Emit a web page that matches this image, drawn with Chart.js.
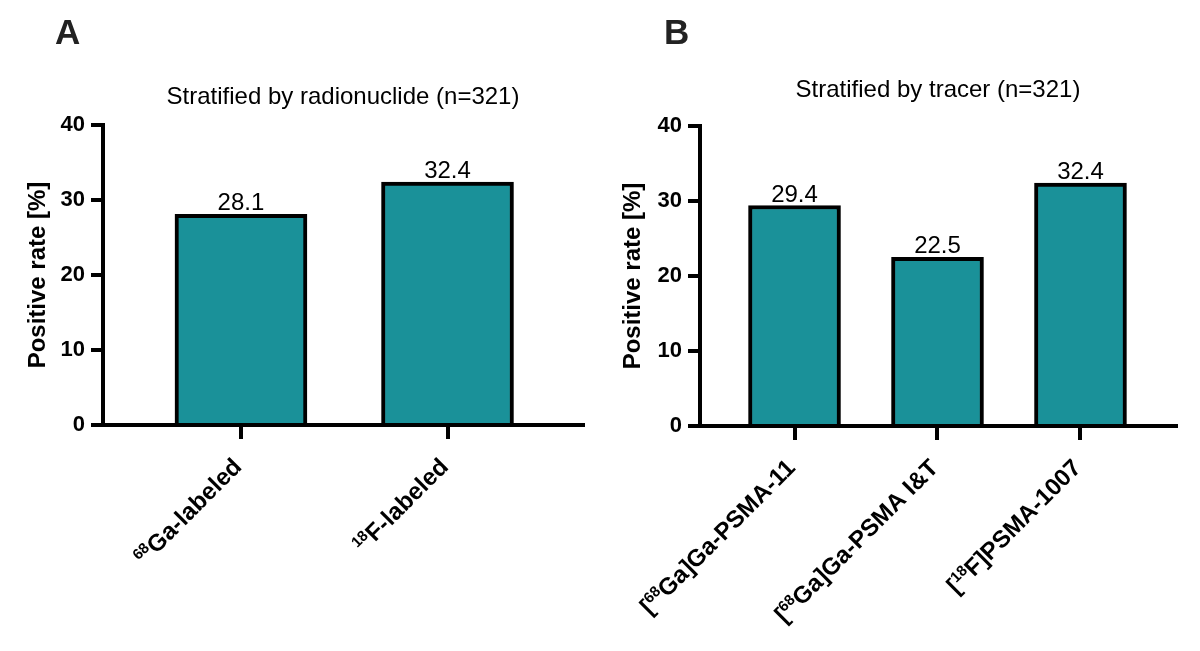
<!DOCTYPE html>
<html>
<head>
<meta charset="utf-8">
<script src="https://cdn.jsdelivr.net/npm/chart.js@4.4.1/dist/chart.umd.min.js"></script>
<style>
  html, body { margin: 0; padding: 0; background: #fff; }
  body { width: 1200px; height: 651px; position: relative; overflow: hidden; }
  .panel { position: absolute; top: 0; width: 600px; height: 651px; }
  .letra { position: absolute; top: 14px; font: bold 35px/36px "Liberation Sans", Arial, sans-serif; color: #222; }
</style>
</head>
<body>
<div class="panel" style="left:0"><canvas id="graficoA"></canvas></div>
<div class="panel" style="left:600px"><canvas id="graficoB"></canvas></div>
<div class="letra" style="left:55px">A</div>
<div class="letra" style="left:664px">B</div>
<script>
const categoriasA = ["⁶⁸Ga-labeled", "¹⁸F-labeled"];
const valoresA = [28.1, 32.4];

const categoriasB = ["[⁶⁸Ga]Ga-PSMA-11", "[⁶⁸Ga]Ga-PSMA I&T", "[¹⁸F]PSMA-1007"];
const valoresB = [29.4, 22.5, 32.4];

const ticksY = [0, 10, 20, 30, 40];

const FUENTE = '"Liberation Sans", Arial, sans-serif';
const TEAL = '#1a9199';
const SUPER = '⁰¹²³⁴⁵⁶⁷⁸⁹';

// numeros encima de las barras
const etiquetasValor = {
    id: 'etiquetasValor',
    afterDatasetsDraw(chart) {
        const ctx = chart.ctx;
        const meta = chart.getDatasetMeta(0);
        const datos = chart.data.datasets[0].data;
        ctx.save();
        ctx.font = '24px ' + FUENTE;
        ctx.fillStyle = '#000';
        ctx.textAlign = 'center';
        ctx.textBaseline = 'alphabetic';
        meta.data.forEach((barra, i) => {
            ctx.fillText(datos[i].y.toFixed(1), barra.x, barra.y - 4);
        });
        ctx.restore();
    }
};

// separa el texto en trozos normales y superindices
function trozos(texto) {
    const lista = [];
    for (const ch of texto) {
        const k = SUPER.indexOf(ch);
        const sup = k >= 0;
        const c = sup ? String(k) : ch;
        const ult = lista[lista.length - 1];
        if (ult && ult.sup === sup) ult.t += c;
        else lista.push({ t: c, sup: sup });
    }
    return lista;
}

// etiquetas del eje x giradas 45 grados, con superindices
const etiquetasX = {
    id: 'etiquetasX',
    afterDraw(chart) {
        const ctx = chart.ctx;
        const xs = chart.scales.x;
        const cats = chart.options.plugins.etiquetasX.categorias;
        const fNormal = 'bold 24px ' + FUENTE;
        const fSup = 'bold 15px ' + FUENTE;
        ctx.save();
        ctx.fillStyle = '#000';
        ctx.textBaseline = 'alphabetic';
        ctx.textAlign = 'left';
        cats.forEach((cat, i) => {
            const px = xs.getPixelForValue(i);
            const partes = trozos(cat);
            let total = 0;
            partes.forEach(p => {
                ctx.font = p.sup ? fSup : fNormal;
                p.w = ctx.measureText(p.t).width;
                total += p.w;
            });
            ctx.save();
            ctx.translate(px - 4, xs.top + 37);
            ctx.rotate(-Math.PI / 4);
            let cx = -total;
            partes.forEach(p => {
                ctx.font = p.sup ? fSup : fNormal;
                ctx.fillText(p.t, cx, p.sup ? 0 : 8.5);
                cx += p.w;
            });
            ctx.restore();
        });
        ctx.restore();
    }
};

function crearGrafico(id, categorias, valores, titulo, cfg) {
    const ctx = document.getElementById(id);

    return new Chart(ctx, {
        type: 'bar',
        data: {
            datasets: [{
                data: valores.map((v, i) => ({ x: i, y: v })),
                backgroundColor: TEAL,
                borderColor: '#000',
                borderWidth: 4,
                barThickness: cfg.barra
            }]
        },
        plugins: [etiquetasValor, etiquetasX],
        options: {
            responsive: true,
            maintainAspectRatio: false,
            animation: false,
            layout: { padding: { top: cfg.padTop, left: 0, right: cfg.padRight, bottom: 0 } },
            plugins: {
                legend: { display: false },
                tooltip: { enabled: false },
                etiquetasX: { categorias: categorias },
                title: {
                    display: true,
                    text: titulo,
                    fullSize: false,
                    color: '#000',
                    font: { family: FUENTE, size: 24, weight: 'normal' },
                    padding: { top: 0, bottom: cfg.titlePad }
                }
            },
            scales: {
                x: {
                    type: 'linear',
                    offset: false,
                    min: cfg.xMin,
                    max: cfg.xMax,
                    afterBuildTicks: scale => {
                        scale.ticks = categorias.map((c, i) => ({ value: i }));
                    },
                    afterFit: scale => {
                        scale.height = cfg.xHeight;
                        scale.paddingLeft = 0;
                        scale.paddingRight = 0;
                    },
                    ticks: { display: false },
                    grid: { offset: false, drawOnChartArea: false, color: '#000', lineWidth: 4, tickLength: 14 },
                    border: { color: '#000', width: 4 }
                },
                y: {
                    min: 0,
                    max: 40,
                    afterBuildTicks: scale => {
                        scale.ticks = ticksY.map(v => ({ value: v }));
                    },
                    afterFit: scale => {
                        scale.width = cfg.yWidth;
                    },
                    ticks: {
                        padding: 6,
                        color: '#000',
                        font: { family: FUENTE, size: 22, weight: 'bold' }
                    },
                    grid: { drawOnChartArea: false, color: '#000', lineWidth: 4, tickLength: 12 },
                    border: { color: '#000', width: 4 },
                    title: {
                        display: true,
                        text: 'Positive rate [%]',
                        color: '#000',
                        font: { family: FUENTE, size: 24, weight: 'bold' },
                        padding: { top: cfg.yTitlePad, bottom: 0 }
                    }
                }
            }
        }
    });
}

crearGrafico('graficoA', categoriasA, valoresA, 'Stratified by radionuclide (n=321)', {
    yWidth: 103, xHeight: 226, xMin: -0.668, xMax: 1.656, barra: 132,
    padTop: 82.6, padRight: 17, titlePad: 13.6, yTitlePad: 23.6
});

crearGrafico('graficoB', categoriasB, valoresB, 'Stratified by tracer (n=321)', {
    yWidth: 100, xHeight: 225, xMin: -0.661, xMax: 2.668, barra: 92,
    padTop: 76.1, padRight: 24, titlePad: 21.1, yTitlePad: 18.6
});
</script>
</body>
</html>
